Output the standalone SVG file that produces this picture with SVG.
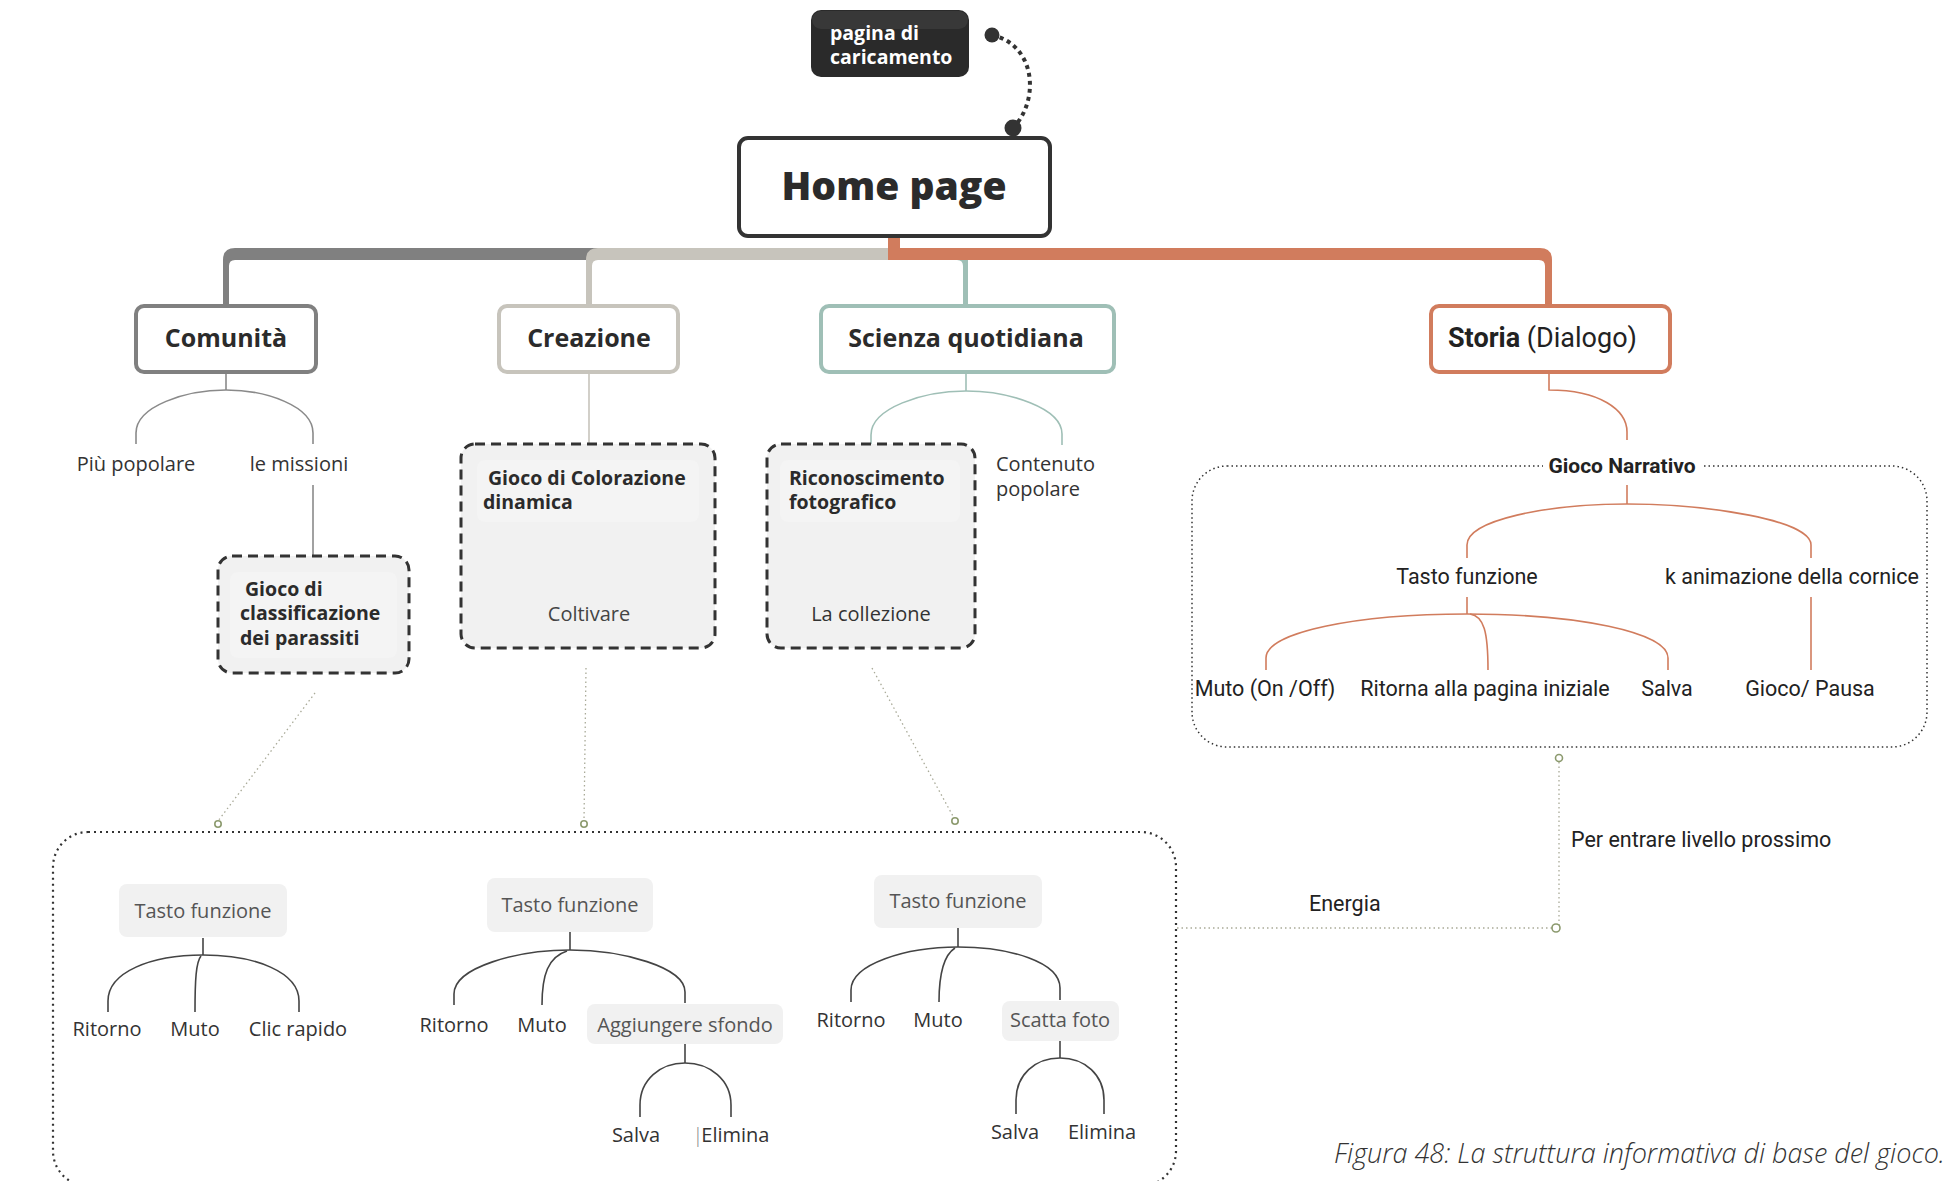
<svg xmlns="http://www.w3.org/2000/svg" width="1951" height="1181" viewBox="0 0 1951 1181">
  <style>
    .t { font-family: "Open Sans", "Noto Sans", sans-serif; font-size: 20px; fill: #333; }
    .tg { font-family: "Open Sans", "Noto Sans", sans-serif; font-size: 20px; fill: #555; }
    .tb { font-family: "Open Sans", "Noto Sans", sans-serif; font-size: 19.5px; font-weight: 700; fill: #2b2b2b; }
    .head { font-family: "Open Sans", "Noto Sans", sans-serif; font-size: 25px; font-weight: 700; fill: #2b2b2b; }
    .cond { font-family: Roboto, "Liberation Sans", sans-serif; font-size: 21.5px; fill: #222; }
    .mid { text-anchor: middle; }
    .topic { fill: #fff; stroke-width: 4; }
    .dash { fill: #f1f1f1; stroke: #333; stroke-width: 3; stroke-dasharray: 10 6; }
    .inner { fill: #f4f4f4; }
    .pill { fill: #f1f1f1; }
    .ln { fill: none; stroke-width: 1.6; }
    .dark { stroke: #444; }
    .faint { fill: none; stroke: #a9aa98; stroke-width: 1.3; stroke-dasharray: 1.5 3; }
    .ring { fill: #fff; stroke: #8c9a6e; stroke-width: 1.6; }
  </style>

  <rect width="1951" height="1181" fill="#fff"/>

  <!-- connectors -->
  <g id="connectors">
    <!-- main branches from Home page -->
    <path d="M894,248 H235 Q223,248 223,260 V306 H229 V266 Q229,260 235,260 H894 Z" fill="#808080"/>
    <path d="M894,248 H598 Q586,248 586,260 V306 H592 V266 Q592,260 598,260 H894 Z" fill="#c7c4bc"/>
    <path d="M894,248 H956 Q968,248 968,260 V306 H963 V266 Q963,260 957,260 H894 Z" fill="#9fbfb6"/>
    <path d="M888,236 H900 V248 H1540 Q1552,248 1552,260 V306 H1545 V266 Q1545,260 1539,260 H888 Z" fill="#d17c5d"/>

    <!-- loading page link -->
    <path d="M992,35 C1036,45 1040,100 1013,128" fill="none" stroke="#333" stroke-width="4" stroke-dasharray="4 4"/>
    <circle cx="992" cy="35" r="7.5" fill="#333"/>
    <circle cx="1013" cy="128" r="8.5" fill="#333"/>

    <!-- Comunità -->
    <g class="ln" stroke="#8a8a8a">
      <path d="M226,372 V390"/>
      <path d="M226,390 C186,390 136,406 136,433 L136,444"/>
      <path d="M226,390 C266,390 313,406 313,433 L313,444"/>
      <path d="M313,485 V570"/>
    </g>
    <!-- Creazione -->
    <g class="ln" stroke="#c7c4bc">
      <path d="M589,372 V458"/>
      <path d="M589,523 V597"/>
    </g>
    <!-- Scienza quotidiana -->
    <g class="ln" stroke="#9fbfb6">
      <path d="M966,372 V391"/>
      <path d="M966,391 C923,391 871,408 871,435 L871,457"/>
      <path d="M966,391 C1009,391 1062,408 1062,434 L1062,445"/>
      <path d="M871,523 V597"/>
    </g>
    <!-- Storia -->
    <g class="ln" stroke="#d17c5d">
      <path d="M1549,372 V390 C1600,390 1627,410 1627,432 V440"/>
      <path d="M1627,485 V504"/>
      <path d="M1627,504 C1547,504 1467,520 1467,545 L1467,558"/>
      <path d="M1627,504 C1707,504 1811,520 1811,545 L1811,558"/>
      <path d="M1467,597 V614"/>
      <path d="M1467,614 C1357,614 1266,632 1266,658 L1266,670"/>
      <path d="M1470,614 C1484,616 1488,632 1488,670"/>
      <path d="M1467,614 C1577,614 1668,632 1668,658 L1668,670"/>
      <path d="M1811,597 V670"/>
    </g>

    <!-- game screens to shared controls -->
    <path class="faint" d="M315,693 L218,821"/>
    <path class="faint" d="M586,668 L584,821"/>
    <path class="faint" d="M872,668 L954,818"/>
    <circle class="ring" cx="218" cy="824" r="3.2"/>
    <circle class="ring" cx="584" cy="824" r="3.2"/>
    <circle class="ring" cx="955" cy="821" r="3.2"/>

    <!-- energy link -->
    <path class="faint" d="M1559,762 V928 M1552,928 H1176"/>
    <circle class="ring" cx="1559" cy="758" r="3.5"/>
    <circle class="ring" cx="1556" cy="928" r="4"/>

    <!-- shared controls -->
    <g class="ln dark">
      <path d="M203,938 V955"/>
      <path d="M203,955 C151,955 108,972 108,1001 L108,1012"/>
      <path d="M201,956 C196,962 195,980 195,1012"/>
      <path d="M203,955 C255,955 299,972 299,1001 L299,1012"/>

      <path d="M570,932 V950"/>
      <path d="M570,950 C518,950 454,967 454,994 L454,1005"/>
      <path d="M567,951 C548,957 542,975 542,1005"/>
      <path d="M570,950 C622,950 685,967 685,992 L685,1003"/>
      <path d="M685,1044 V1063"/>
      <path d="M685,1063 C660,1063 640,1080 640,1105 L640,1117"/>
      <path d="M685,1063 C710,1063 731,1080 731,1105 L731,1117"/>

      <path d="M958,928 V947"/>
      <path d="M958,947 C906,947 851,964 851,990 L851,1002"/>
      <path d="M955,948 C944,955 939,972 939,1002"/>
      <path d="M958,947 C1010,947 1060,962 1060,988 L1060,1000"/>
      <path d="M1060,1041 V1058"/>
      <path d="M1060,1058 C1035,1058 1016,1075 1016,1100 L1016,1114"/>
      <path d="M1060,1058 C1085,1058 1104,1075 1104,1100 L1104,1114"/>
    </g>
  </g>

  <!-- boundaries -->
  <g id="boundaries">
    <rect x="1192" y="466" width="735" height="281" rx="35" fill="none" stroke="#333" stroke-width="1.5" stroke-dasharray="1.5 3"/>
    <rect x="53" y="832" width="1123" height="354" rx="35" fill="none" stroke="#333" stroke-width="2.2" stroke-dasharray="2 4"/>
  </g>

  <g id="loading-page">
    <rect x="811" y="10" width="158" height="67" rx="10" fill="#2a2a2a"/>
    <rect x="812" y="11" width="156" height="18" rx="9" fill="#383838"/>
    <text x="830" y="40" style="font-family:'Open Sans','Noto Sans',sans-serif;font-size:19.5px;font-weight:700;fill:#fff">pagina di</text>
    <text x="830" y="64" style="font-family:'Open Sans','Noto Sans',sans-serif;font-size:19.5px;font-weight:700;fill:#fff">caricamento</text>
  </g>

  <g id="home-page">
    <rect x="739" y="138" width="311" height="98" rx="9" class="topic" stroke="#333"/>
    <text x="894" y="200" class="mid" style="font-family:'Open Sans','Noto Sans',sans-serif;font-size:39px;font-weight:800;fill:#2b2b2b">Home page</text>
  </g>

  <g id="comunita">
    <rect x="136" y="306" width="180" height="66" rx="8" class="topic" stroke="#808080"/>
    <text x="226" y="347" class="head mid">Comunità</text>
  </g>
  <g id="piu-popolare"><text x="136" y="471" class="t mid">Più popolare</text></g>
  <g id="le-missioni"><text x="299" y="471" class="t mid">le missioni</text></g>
  <g id="gioco-parassiti">
    <rect x="218" y="556" width="191" height="117" rx="14" class="dash"/>
    <rect x="230" y="572" width="167" height="86" rx="8" class="inner"/>
    <text x="245" y="596" class="tb">Gioco di</text>
    <text x="240" y="620" class="tb">classificazione</text>
    <text x="240" y="645" class="tb">dei parassiti</text>
  </g>

  <g id="creazione">
    <rect x="499" y="306" width="179" height="66" rx="8" class="topic" stroke="#c7c4bc"/>
    <text x="589" y="347" class="head mid">Creazione</text>
  </g>
  <g id="gioco-colorazione">
    <rect x="461" y="444" width="254" height="204" rx="14" class="dash"/>
    <rect x="477" y="460" width="222" height="62" rx="8" class="inner"/>
    <text x="488" y="485" class="tb">Gioco di Colorazione</text>
    <text x="483" y="509" class="tb">dinamica</text>
    <text x="589" y="621" class="t mid" style="fill:#444">Coltivare</text>
  </g>

  <g id="scienza">
    <rect x="821" y="306" width="293" height="66" rx="8" class="topic" stroke="#9fbfb6"/>
    <text x="966" y="347" class="head mid">Scienza quotidiana</text>
  </g>
  <g id="riconoscimento">
    <rect x="767" y="444" width="208" height="204" rx="14" class="dash"/>
    <rect x="780" y="460" width="180" height="62" rx="8" class="inner"/>
    <text x="789" y="485" class="tb">Riconoscimento</text>
    <text x="789" y="509" class="tb">fotografico</text>
    <text x="871" y="621" class="t mid">La collezione</text>
  </g>
  <g id="contenuto-popolare">
    <text x="996" y="471" class="t">Contenuto</text>
    <text x="996" y="496" class="t">popolare</text>
  </g>

  <g id="storia">
    <rect x="1431" y="306" width="239" height="66" rx="8" class="topic" stroke="#d17c5d"/>
    <text x="1448" y="347" style="font-family:Roboto,'Liberation Sans',sans-serif;font-size:27px;fill:#222"><tspan font-weight="700">Storia</tspan> (Dialogo)</text>
  </g>
  <g id="gioco-narrativo">
    <rect x="1543" y="453" width="159" height="27" fill="#fff"/>
    <text x="1622" y="473" class="mid" style="font-family:Roboto,'Liberation Sans',sans-serif;font-size:21px;font-weight:700;fill:#222">Gioco Narrativo</text>
  </g>
  <g id="storia-tasto"><text x="1467" y="584" class="cond mid">Tasto funzione</text></g>
  <g id="storia-animazione"><text x="1792" y="584" class="cond mid">k animazione della cornice</text></g>
  <g id="storia-muto"><text x="1265" y="696" class="cond mid">Muto (On /Off)</text></g>
  <g id="storia-ritorna"><text x="1485" y="696" class="cond mid">Ritorna alla pagina iniziale</text></g>
  <g id="storia-salva"><text x="1667" y="696" class="cond mid">Salva</text></g>
  <g id="storia-gioco-pausa"><text x="1810" y="696" class="cond mid">Gioco/ Pausa</text></g>

  <g id="per-entrare"><text x="1571" y="847" class="cond">Per entrare livello prossimo</text></g>
  <g id="energia"><text x="1309" y="911" class="cond">Energia</text></g>

  <!-- shared controls: community -->
  <g id="tasto-1">
    <rect x="119" y="884" width="168" height="53" rx="8" class="pill"/>
    <text x="203" y="918" class="tg mid">Tasto funzione</text>
  </g>
  <g id="ritorno-1"><text x="107" y="1036" class="t mid">Ritorno</text></g>
  <g id="muto-1"><text x="195" y="1036" class="t mid">Muto</text></g>
  <g id="clic-rapido"><text x="298" y="1036" class="t mid">Clic rapido</text></g>

  <!-- shared controls: creation -->
  <g id="tasto-2">
    <rect x="487" y="878" width="166" height="54" rx="8" class="pill"/>
    <text x="570" y="912" class="tg mid">Tasto funzione</text>
  </g>
  <g id="ritorno-2"><text x="454" y="1032" class="t mid">Ritorno</text></g>
  <g id="muto-2"><text x="542" y="1032" class="t mid">Muto</text></g>
  <g id="aggiungere-sfondo">
    <rect x="587" y="1004" width="196" height="40" rx="8" class="pill"/>
    <text x="685" y="1032" class="tg mid">Aggiungere sfondo</text>
  </g>
  <g id="salva-2"><text x="636" y="1142" class="t mid">Salva</text></g>
  <g id="elimina-2"><text x="731" y="1142" class="t mid"><tspan style="fill:#888" font-weight="300">|</tspan><tspan dx="-2">Elimina</tspan></text></g>

  <!-- shared controls: science -->
  <g id="tasto-3">
    <rect x="874" y="875" width="168" height="53" rx="8" class="pill"/>
    <text x="958" y="908" class="tg mid">Tasto funzione</text>
  </g>
  <g id="ritorno-3"><text x="851" y="1027" class="t mid">Ritorno</text></g>
  <g id="muto-3"><text x="938" y="1027" class="t mid">Muto</text></g>
  <g id="scatta-foto">
    <rect x="1002" y="1001" width="117" height="40" rx="8" class="pill"/>
    <text x="1060" y="1027" class="tg mid">Scatta foto</text>
  </g>
  <g id="salva-3"><text x="1015" y="1139" class="t mid">Salva</text></g>
  <g id="elimina-3"><text x="1102" y="1139" class="t mid">Elimina</text></g>

  <text x="1945" y="1163" text-anchor="end" style="font-family:'Open Sans','Noto Sans',sans-serif;font-size:27px;font-style:italic;font-weight:300;fill:#333">Figura 48: La struttura informativa di base del gioco.</text>
</svg>
